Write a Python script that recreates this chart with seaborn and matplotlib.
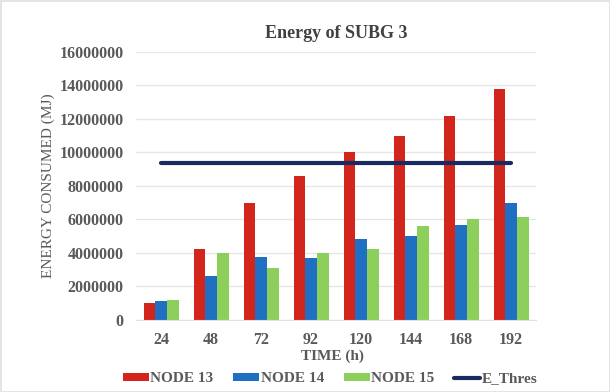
import matplotlib
matplotlib.use("Agg")
import matplotlib.pyplot as plt
import seaborn as sns
import pandas as pd
from matplotlib.ticker import FuncFormatter

# data
times = ["24", "48", "72", "92", "120", "144", "168", "192"]
node13 = [1000000, 4250000, 7000000, 8600000, 10000000, 10950000, 12150000, 13750000]
node14 = [1100000, 2600000, 3750000, 3700000, 4800000, 5000000, 5650000, 6950000]
node15 = [1200000, 4000000, 3100000, 4000000, 4200000, 5600000, 6000000, 6150000]
e_thres = 9350000

df = pd.DataFrame({
    "time": times * 3,
    "energy": node13 + node14 + node15,
    "node": ["NODE 13"] * 8 + ["NODE 14"] * 8 + ["NODE 15"] * 8,
})

sns.set_style("white")
plt.rcParams["font.family"] = ["Liberation Serif", "DejaVu Serif"]
txt = "#595959"

fig = plt.figure(figsize=(6.1, 3.92), dpi=100)
fig.patch.set_edgecolor("#e4e4e4")
fig.patch.set_linewidth(2)
ax = fig.add_axes([0.223, 0.184, 0.656, 0.684])

colors = ["#d2261c", "#1f6fc2", "#8ccf5a"]
sns.barplot(data=df, x="time", y="energy", hue="node", palette=colors,
            width=0.7, gap=0, saturation=1, linewidth=0, ax=ax, legend=True)

xs = list(range(len(times)))
ax.plot(xs, [e_thres] * len(times), color="#1a2a5e", lw=3, label="E_Thres",
        solid_capstyle="round")

ax.set_ylim(0, 16000000)
ax.set_yticks(range(0, 16000001, 2000000))
ax.yaxis.set_major_formatter(FuncFormatter(lambda v, p: f"{int(v)}"))
ax.grid(axis="y", color="#e6e6e6", lw=1)
ax.set_axisbelow(True)
for s in ["top", "right", "left"]:
    ax.spines[s].set_visible(False)
ax.spines["bottom"].set_color("#e0e0e0")
ax.tick_params(axis="both", length=0, labelsize=11.5, labelcolor=txt, pad=9)
for lab in ax.get_xticklabels() + ax.get_yticklabels():
    lab.set_fontweight("bold")
ax.set_xlim(-0.5, len(times) - 0.5)

ax.set_title("Energy of SUBG 3", fontsize=13, fontweight="bold", color="#404040", pad=10)
ax.set_xlabel("TIME (h)", fontsize=11, fontweight="bold", color=txt)
ax.xaxis.set_label_coords(0.49, -0.11)
ax.set_ylabel("ENERGY CONSUMED (MJ)", fontsize=11, color=txt)
ax.yaxis.set_label_coords(-0.2025, 0.5)

handles, labels = ax.get_legend_handles_labels()
ax.get_legend().remove()
leg = fig.legend(handles, labels, loc="center", bbox_to_anchor=(0.541, 1 - 379 / 392),
                 ncol=4, frameon=False, fontsize=11, handlelength=1.7,
                 handleheight=0.45, columnspacing=1.3, handletextpad=0.1,
                 borderpad=0, borderaxespad=0)
for t in leg.get_texts():
    t.set_color(txt)
    t.set_fontweight("bold")

fig.savefig("out.png", dpi=100)
